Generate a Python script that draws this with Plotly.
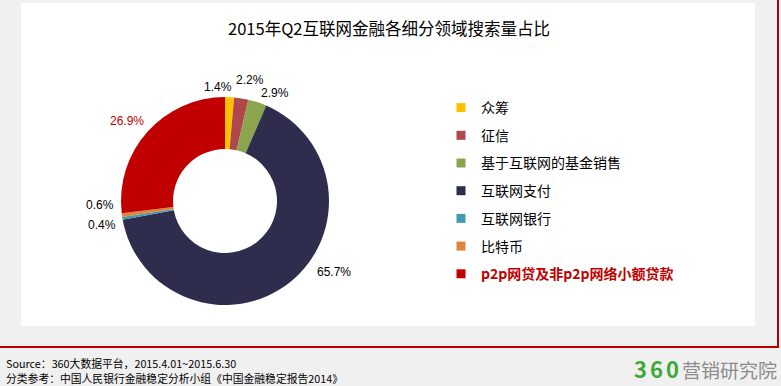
import math
import plotly.graph_objects as go

W, H = 781, 386

labels = ["众筹", "征信", "基于互联网的基金销售", "互联网支付", "互联网银行", "比特币", "p2p网贷及非p2p网络小额贷款"]
values = [1.4, 2.2, 2.9, 65.7, 0.4, 0.6, 26.9]
colors = ["#FFC000", "#B0474A", "#8BA54F", "#2E2D4D", "#4499B2", "#E0843C", "#C00000"]
label_colors = ["#000000"] * 6 + ["#C00000"]
texts = [f"{v:.1f}%" for v in values]

title = "2015年Q2互联网金融各细分领域搜索量占比"
source1 = "Source：360大数据平台，2015.4.01~2015.6.30"
source2 = "分类参考：中国人民银行金融稳定分析小组《中国金融稳定报告2014》"

# layout geometry (pixels)
CX, CY, R = 225, 201, 104
LABEL_R = 120
label_nudge = [(-12, -6), (6, 2), (13, -6), (34, 23), (-5, -4), (-6, 12), (-8, 0)]


def px(x):
    return x / W


def py(y):
    return 1 - y / H


fig = go.Figure()

fig.add_trace(go.Pie(
    labels=labels,
    values=values,
    textinfo="none",
    sort=False,
    direction="clockwise",
    rotation=0,
    hole=0.5,
    marker=dict(colors=colors, line=dict(width=0)),
    showlegend=False,
    hoverinfo="label+percent",
    domain=dict(x=[px(CX - R), px(CX + R)], y=[py(CY + R), py(CY - R)]),
))

# data labels placed at each slice's mid angle (computed from the values)
total = sum(values)
annotations = []
cum = 0.0
for v, t, c, (nx, ny) in zip(values, texts, label_colors, label_nudge):
    mid = (cum + v / 2) / total
    cum += v
    th = 2 * math.pi * mid
    dx = LABEL_R * math.sin(th)
    dy = -LABEL_R * math.cos(th)
    annotations.append(dict(
        text=t, xref="paper", yref="paper", x=px(CX + dx), y=py(CY + dy),
        xshift=nx, yshift=ny, showarrow=False, xanchor="center", yanchor="middle",
        font=dict(family="Liberation Sans, Arial", size=12, color=c),
    ))

for i, (lab, col) in enumerate(zip(labels, colors)):
    name = lab
    if i == len(labels) - 1:
        name = f"<b><span style='color:#C00000'>{lab}</span></b>"
    fig.add_trace(go.Scatter(
        x=[None], y=[None], mode="markers", name=name,
        marker=dict(symbol="square", size=9, color=col),
        legendgroup=f"g{i}", showlegend=True, hoverinfo="skip",
    ))

annotations += [
    dict(text=title, xref="paper", yref="paper", x=px(389), y=py(28), showarrow=False,
         xanchor="center", yanchor="middle", font=dict(size=16.5, family="Noto Sans CJK SC", color="#000")),
    dict(text=source1, xref="paper", yref="paper", x=px(4), y=py(363), showarrow=False,
         xanchor="left", yanchor="middle", align="left",
         font=dict(size=10.8, family="Noto Sans CJK SC", color="#000")),
    dict(text=source2, xref="paper", yref="paper", x=px(4), y=py(377.5), showarrow=False,
         xanchor="left", yanchor="middle", align="left",
         font=dict(size=10.8, family="Noto Sans CJK SC", color="#000")),
    dict(text="<b><span style='color:#3DAA35;font-size:22px;letter-spacing:3px'>360</span></b>"
              "<span style='color:#8C8C8C'>营销研究院</span>",
         xref="paper", yref="paper", x=px(779), y=py(368), showarrow=False,
         xanchor="right", yanchor="middle", font=dict(size=19, family="Noto Sans CJK SC")),
]

fig.update_layout(
    width=W, height=H,
    margin=dict(l=0, r=0, t=0, b=0),
    paper_bgcolor="#F0F0F0",
    plot_bgcolor="rgba(0,0,0,0)",
    xaxis=dict(visible=False),
    yaxis=dict(visible=False),
    font=dict(family="Noto Sans CJK SC, sans-serif", color="#000000"),
    legend=dict(
        x=px(441), y=py(92), xanchor="left", yanchor="top",
        font=dict(size=14, family="Noto Sans CJK SC", color="#000000"),
        tracegroupgap=6.5, bgcolor="rgba(0,0,0,0)", itemclick=False,
    ),
    shapes=[
        dict(type="rect", xref="paper", yref="paper", x0=px(21), x1=px(755), y0=py(326), y1=py(3),
             fillcolor="#FFFFFF", line=dict(width=0), layer="below"),
        dict(type="line", xref="paper", yref="paper", x0=0, x1=px(779), y0=py(347), y1=py(347),
             line=dict(color="#C00000", width=2)),
        dict(type="line", xref="paper", yref="paper", x0=px(778), x1=px(778), y0=py(347), y1=1,
             line=dict(color="#C00000", width=2)),
    ],
    annotations=annotations,
)

fig.write_html("out.html", config={"displayModeBar": False},
               post_script="document.body.style.margin='0px';")
